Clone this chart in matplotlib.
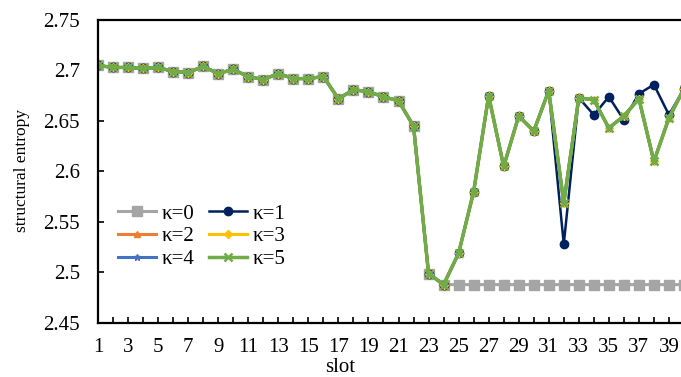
import numpy as np
import matplotlib
matplotlib.use('Agg')
import matplotlib.pyplot as plt
from matplotlib.ticker import MultipleLocator, FixedLocator, FuncFormatter

plt.rcParams['font.family'] = ['Liberation Serif', 'DejaVu Serif']

slots = np.arange(1, 41)

# common trajectory for slots 1..23
head = [2.705, 2.703, 2.703, 2.702, 2.703, 2.699, 2.698, 2.704, 2.697, 2.701,
        2.694, 2.691, 2.697, 2.692, 2.692, 2.694, 2.672, 2.681, 2.679, 2.674,
        2.670, 2.645, 2.499]

# slots 24..40
tail_k0 = [2.488] * 17
tail_k1 = [2.488, 2.519, 2.580, 2.675, 2.605, 2.655, 2.640, 2.680, 2.528,
           2.673, 2.656, 2.674, 2.651, 2.677, 2.686, 2.656, 2.682]
tail_k5 = [2.488, 2.519, 2.580, 2.675, 2.605, 2.655, 2.640, 2.680, 2.569,
           2.673, 2.671, 2.643, 2.655, 2.672, 2.610, 2.653, 2.682]

k0 = head + tail_k0
k1 = head + tail_k1
k2 = head + tail_k5
k3 = head + tail_k5
k4 = head + tail_k5
k5 = head + tail_k5

fig = plt.figure(figsize=(6.81, 3.77), dpi=100)
ax = fig.add_axes([98/681, 54/377, 601/681, 303/377])

l0, = ax.plot(slots, k0, '-s', color='#A5A5A5', lw=2.2, ms=6.5, label='κ=0')
l1, = ax.plot(slots, k1, '-o', color='#002060', lw=1.8, ms=6, label='κ=1')
l2, = ax.plot(slots, k2, '-^', color='#ED7D31', lw=2.2, ms=5, label='κ=2')
l3, = ax.plot(slots, k3, '-D', color='#FFC000', lw=2.2, ms=4.5, label='κ=3')
l4, = ax.plot(slots, k4, '-*', color='#4472C4', lw=2.2, ms=5, label='κ=4')
l5, = ax.plot(slots, k5, '-x', color='#70AD47', lw=2.5, ms=5.5, mew=1.8, label='κ=5')

ax.set_xlim(1, 41)
ax.set_ylim(2.45, 2.75)
ax.xaxis.set_major_locator(FixedLocator(np.arange(1, 42, 2)))
ax.xaxis.set_minor_locator(MultipleLocator(1))
ax.yaxis.set_major_locator(MultipleLocator(0.05))
ax.yaxis.set_major_formatter(FuncFormatter(lambda v, p: '%g' % round(v, 2)))
ax.tick_params(axis='both', which='both', direction='in', labelsize=15,
               width=1.2, length=4, color='black')
ax.tick_params(axis='x', which='major', pad=11)
ax.tick_params(axis='y', pad=13)
for s in ax.spines.values():
    s.set_linewidth(1.6)

ax.set_xlabel('slot', fontsize=15)
ax.xaxis.set_label_coords((340 - 98) / 601, -35 / 303)
ax.set_ylabel('structural entropy', fontsize=12.5)
ax.yaxis.set_label_coords(-68 / 601, 153 / 303)

# row-wise legend order: 0 1 / 2 3 / 4 5
ax.legend([l0, l2, l4, l1, l3, l5], ['κ=0', 'κ=2', 'κ=4', 'κ=1', 'κ=3', 'κ=5'],
          ncol=2, frameon=False, fontsize=15, loc='upper left',
          bbox_to_anchor=(20 / 601, 119 / 303), handlelength=1.8,
          handletextpad=0.3, columnspacing=0.7, labelspacing=0.15,
          borderpad=0, borderaxespad=0)

fig.savefig('out.png', dpi=100)
